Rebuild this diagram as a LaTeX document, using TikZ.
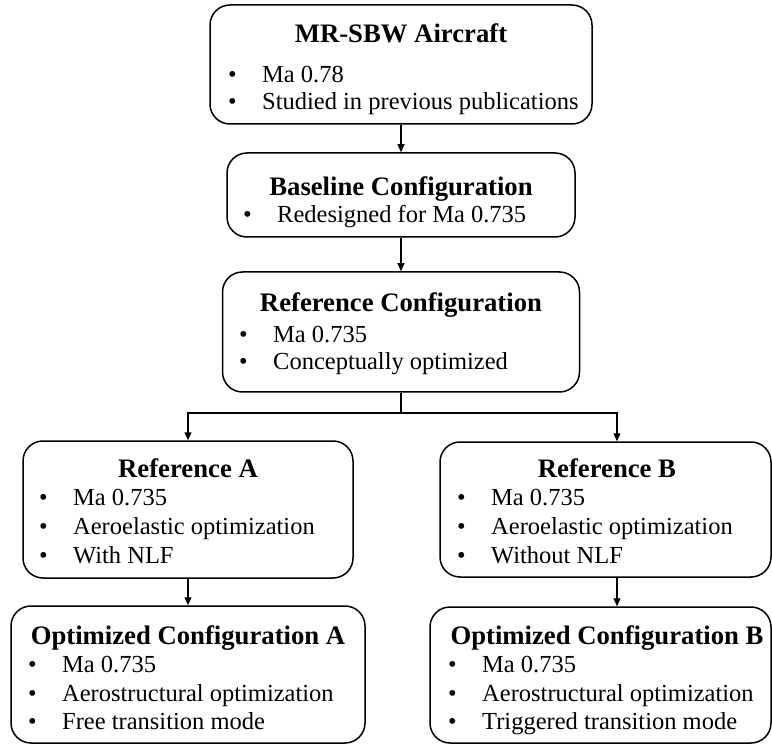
\documentclass[tikz,border=0pt]{standalone}
\usepackage{fontspec}
\setmainfont{Liberation Serif}
\usetikzlibrary{arrows.meta}
\newcommand{\bul}{\makebox[34pt][l]{\textbullet}}
\tikzset{
  boxst/.style={draw=black, line width=1.5pt, rounded corners=20pt, inner sep=0pt},
  titlest/.style={anchor=base, inner sep=0pt, font=\fontsize{26.7}{30}\selectfont\bfseries},
  bulst/.style={anchor=base west, inner sep=0pt, font=\fontsize{24.5}{28}\selectfont},
  conn/.style={line width=1.2pt},
  arr/.style={conn, -{Triangle[length=8pt,width=7pt]}}
}
\begin{document}
\begin{tikzpicture}[x=1pt,y=-1pt]
\useasboundingbox (0,0) rectangle (772,746);
% boxes
\node[boxst, minimum width=382pt, minimum height=119pt] (b1) at (401,64.5) {};
\node[boxst, minimum width=348pt, minimum height=84pt] (b2) at (401,195) {};
\node[boxst, minimum width=357pt, minimum height=120pt] (b3) at (401,332) {};
\node[boxst, minimum width=330pt, minimum height=137pt] (ra) at (188,509.5) {};
\node[boxst, minimum width=354pt, minimum height=137pt] (oa) at (188,674.5) {};
\node[boxst, minimum width=331pt, minimum height=135pt] (rb) at (605.5,509.5) {};
\node[boxst, minimum width=341pt, minimum height=136pt] (ob) at (600.5,675) {};
% texts box 1
\node[titlest] (b1t) at (401,43) {MR-SBW Aircraft};
\node[bulst] (b1a) at (228,83) {\bul Ma 0.78};
\node[bulst] (b1b) at (228,110) {\bul Studied in previous publications};
% box 2
\node[titlest] (b2t) at (401,196) {Baseline Configuration};
\node[bulst] (b2a) at (243,223) {\bul Redesigned for Ma 0.735};
% box 3
\node[titlest] (b3t) at (401,312) {Reference Configuration};
\node[bulst] (b3a) at (239,343) {\bul Ma 0.735};
\node[bulst] (b3b) at (239,370) {\bul Conceptually optimized};
% reference A
\node[titlest] (rat) at (188,477) {Reference A};
\node[bulst] (raa) at (39,505.5) {\bul Ma 0.735};
\node[bulst] (rab) at (39,534) {\bul Aeroelastic optimization};
\node[bulst] (rac) at (39,563) {\bul With NLF};
% optimized A
\node[titlest] (oat) at (188,644) {Optimized Configuration A};
\node[bulst] (oaa) at (28,672) {\bul Ma 0.735};
\node[bulst] (oab) at (28,701) {\bul Aerostructural optimization};
\node[bulst] (oac) at (28,729) {\bul Free transition mode};
% reference B
\node[titlest] (rbt) at (607,477) {Reference B};
\node[bulst] (rba) at (457,505.5) {\bul Ma 0.735};
\node[bulst] (rbb) at (457,534) {\bul Aeroelastic optimization};
\node[bulst] (rbc) at (457,563) {\bul Without NLF};
% optimized B
\node[titlest] (obt) at (607,644) {Optimized Configuration B};
\node[bulst] (oba) at (448,672) {\bul Ma 0.735};
\node[bulst] (obb) at (448,701) {\bul Aerostructural optimization};
\node[bulst] (obc) at (448,729) {\bul Triggered transition mode};
% connectors
\draw[arr] (b1.south) -- (b2.north);
\draw[arr] (b2.south) -- (b3.north);
\coordinate (br) at (401,413);
\coordinate (jb) at (617,413);
\draw[conn] (b3.south) -- (br);
\draw[arr] (br) -| (ra.north);
\draw[arr] (br) -- (jb) -- (jb |- rb.north);
\draw[arr] (ra.south) -- (oa.north -| ra.south);
\draw[arr] (rb.south -| jb) -- (ob.north -| jb);
\end{tikzpicture}
\end{document}
